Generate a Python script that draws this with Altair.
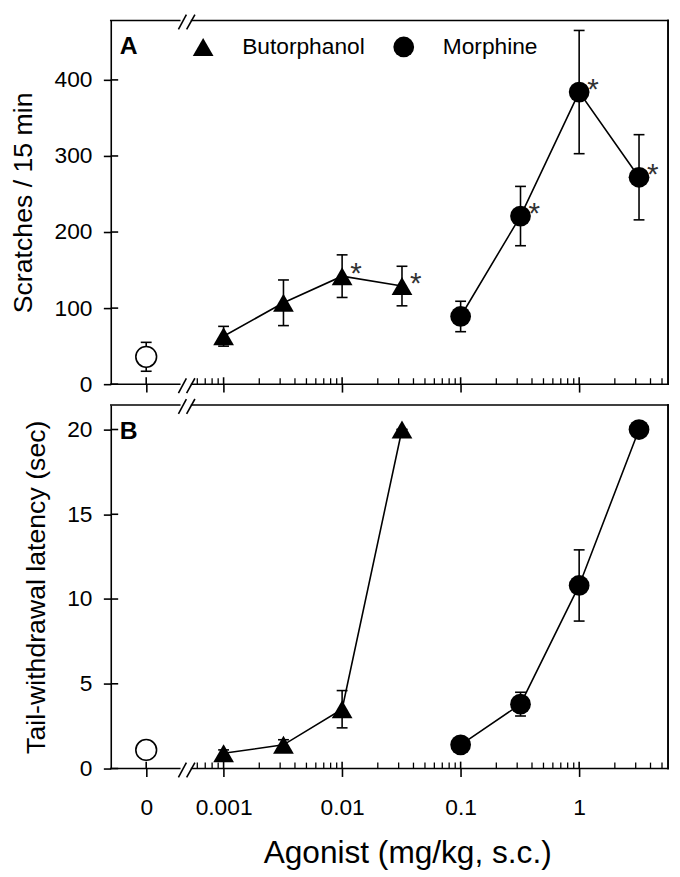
import altair as alt
import pandas as pd

FONT = "Liberation Sans"

# ---------------- data ----------------
BUT_DOSE = [0.001, 0.0032, 0.01, 0.032]
MOR_DOSE = [0.1, 0.32, 1.0, 3.2]
DRUGS = ["Butorphanol", "Morphine"]
SHAPES = ["triangle-up", "circle"]

A_BUT_MEAN = [63, 107, 142, 129]
A_BUT_SEM = [13, 30, 28, 26]
A_BUT_SIG = [False, False, True, True]
A_MOR_MEAN = [89, 221, 384, 272]
A_MOR_SEM = [20, 39, 81, 56]
A_MOR_SIG = [False, True, True, True]
A_CTRL_MEAN = 36
A_CTRL_SEM = 19

B_BUT_MEAN = [0.9, 1.4, 3.5, 20.0]
B_BUT_SEM = [0.2, 0.3, 1.1, 0.0]
B_BUT_SIG = [False, False, False, False]
B_MOR_MEAN = [1.4, 3.8, 10.8, 20.0]
B_MOR_SEM = [0.3, 0.7, 2.1, 0.0]
B_MOR_SIG = [False, False, False, False]
B_CTRL_MEAN = 1.1
B_CTRL_SEM = 0.3

X_TITLE = "Agonist (mg/kg, s.c.)"
A_Y_TITLE = "Scratches / 15 min"
B_Y_TITLE = "Tail-withdrawal latency (sec)"
A_Y_TICKS = [0, 100, 200, 300, 400]
B_Y_TICKS = [0, 5, 10, 15, 20]

# the vehicle (dose 0) point sits left of the axis break
CTRL_POS = 10 ** -3.653
X_MAJOR = [CTRL_POS, 0.001, 0.01, 0.1, 1]
X_MINOR = [0.0006, 0.0007, 0.0008, 0.0009,
           0.002, 0.003, 0.004, 0.005, 0.006, 0.007, 0.008, 0.009,
           0.02, 0.03, 0.04, 0.05, 0.06, 0.07, 0.08, 0.09,
           0.2, 0.3, 0.4, 0.5, 0.6, 0.7, 0.8, 0.9,
           2, 3, 4, 5]
X_DOMAIN = [10 ** -3.952, 10 ** 0.75]
BREAK_LO, BREAK_HI = 10 ** -3.37, 10 ** -3.27
SLASH_LO = [10 ** -3.381, 10 ** -3.312]
SLASH_HI = [10 ** -3.314, 10 ** -3.242]

W, H = 564, 368
LW = 1.6
MSIZE = 441


def panel(but_mean, but_sem, but_sig, mor_mean, mor_sem, mor_sig,
          ctrl_mean, ctrl_sem, ymax, yticks, ytitle, letter, bottom, legend):
    pts = pd.DataFrame({
        "drug": [DRUGS[0]] * len(BUT_DOSE) + [DRUGS[1]] * len(MOR_DOSE),
        "dose": BUT_DOSE + MOR_DOSE,
        "mean": but_mean + mor_mean,
        "sem": but_sem + mor_sem,
        "sig": but_sig + mor_sig,
    })
    ctrl = pd.DataFrame({"drug": ["Vehicle"], "dose": [CTRL_POS],
                         "mean": [ctrl_mean], "sem": [ctrl_sem], "sig": [False]})
    allp = pd.concat([pts, ctrl], ignore_index=True)
    allp["lo"] = allp["mean"] - allp["sem"]
    allp["hi"] = allp["mean"] + allp["sem"]

    xs = alt.Scale(type="log", domain=X_DOMAIN, nice=False)
    ys = alt.Scale(domain=[0, ymax], nice=False, zero=False)

    common_axis = dict(tickSize=8, tickWidth=LW, tickColor="black", domain=False,
                       grid=False, zindex=0, labelFont=FONT, labelFontSize=23,
                       labelColor="black", labelOverlap=False, labelFlush=False,
                       titleFont=FONT, titleColor="black", titleFontWeight="normal")
    if bottom:
        xaxis = alt.Axis(values=X_MAJOR,
                         labelExpr="datum.value < 0.0005 ? '0' : format(datum.value, '~g')",
                         title=X_TITLE, titleFontSize=32, labelPadding=21,
                         titlePadding=18, titleX=W / 2 + 18, **common_axis)
    else:
        xaxis = alt.Axis(values=X_MAJOR, labels=False, title="", **common_axis)
    yaxis = alt.Axis(values=yticks, title=ytitle, titleFontSize=27,
                     labelPadding=11.5, titlePadding=16.5,
                     **{**common_axis, "tickSize": 7.5, "domain": True,
                        "domainWidth": LW, "domainColor": "black"})

    X = lambda f: alt.X(f, scale=xs, axis=xaxis)
    Y = lambda f: alt.Y(f, scale=ys, axis=yaxis)

    base = alt.Chart(allp)
    layers = []
    # error bars
    layers.append(base.mark_rule(color="black", strokeWidth=LW).encode(
        x=X("dose:Q"), y=Y("lo:Q"), y2="hi:Q"))
    for f in ["lo", "hi"]:
        layers.append(base.mark_tick(color="black", orient="horizontal", size=11,
                                     thickness=LW, opacity=1).encode(
            x=X("dose:Q"), y=Y(f + ":Q")))
    # lines
    layers.append(alt.Chart(pts).mark_line(color="black", strokeWidth=LW).encode(
        x=X("dose:Q"), y=Y("mean:Q"), detail="drug:N"))
    # points
    leg = None
    if legend:
        leg = alt.Legend(orient="none", legendX=82, legendY=15, direction="horizontal",
                         title=None, labelFont=FONT, labelFontSize=23, labelColor="black",
                         symbolSize=MSIZE, symbolFillColor="black", symbolStrokeColor="black",
                         symbolStrokeWidth=0, labelOffset=28, columnPadding=27, padding=0)
    layers.append(alt.Chart(pts).mark_point(filled=True, color="black", size=MSIZE,
                                            opacity=1).encode(
        x=X("dose:Q"), y=Y("mean:Q"),
        shape=alt.Shape("drug:N", scale=alt.Scale(domain=DRUGS, range=SHAPES), legend=leg)))
    layers.append(alt.Chart(ctrl).mark_point(shape="circle", filled=True, fill="white",
                                             stroke="black", strokeWidth=LW, size=MSIZE,
                                             opacity=1).encode(
        x=X("dose:Q"), y=Y("mean:Q")))
    # significance asterisks
    layers.append(alt.Chart(pts).transform_filter("datum.sig").mark_text(
        text="*", dx=14, dy=7, fontSize=30, font=FONT, color="#333333",
        baseline="alphabetic").encode(x=X("dose:Q"), y=Y("mean:Q")))

    # frame: top/bottom segments broken at the axis break
    seg = pd.DataFrame({"a": [X_DOMAIN[0], BREAK_HI], "b": [BREAK_LO, X_DOMAIN[1]]})
    for yv in [0, H]:
        layers.append(alt.Chart(seg).mark_rule(color="black", strokeWidth=LW,
                                               strokeCap="square").encode(
            x=X("a:Q"), x2="b:Q", y=alt.value(yv)))
    layers.append(alt.Chart(seg).mark_rule(color="black", strokeWidth=LW,
                                           strokeCap="square").encode(
        x=alt.value(W), y=alt.value(0), y2=alt.value(H)))
    # break slashes
    sl = pd.DataFrame({"a": SLASH_LO, "b": SLASH_HI})
    for yv in [0, H]:
        layers.append(alt.Chart(sl).mark_rule(color="black", strokeWidth=LW).encode(
            x=X("a:Q"), x2="b:Q", y=alt.value(yv + 9), y2=alt.value(yv - 6)))
    # inward ticks
    layers.append(alt.Chart(pd.DataFrame({"t": X_MAJOR})).mark_rule(
        color="black", strokeWidth=LW).encode(x=X("t:Q"), y=alt.value(H), y2=alt.value(H - 7)))
    layers.append(alt.Chart(pd.DataFrame({"t": X_MINOR})).mark_rule(
        color="black", strokeWidth=1.3).encode(x=X("t:Q"), y=alt.value(H), y2=alt.value(H - 6)))
    layers.append(alt.Chart(pd.DataFrame({"t": yticks})).mark_rule(
        color="black", strokeWidth=LW).encode(y=Y("t:Q"), x=alt.value(0), x2=alt.value(7.5)))
    # panel letter
    layers.append(alt.Chart(pd.DataFrame({"t": [letter]})).mark_text(
        align="left", baseline="alphabetic", fontSize=25, fontWeight="bold",
        font=FONT, color="black").encode(text="t:N", x=alt.value(9), y=alt.value(34)))

    return alt.layer(*layers).properties(width=W, height=H)


panelA = panel(A_BUT_MEAN, A_BUT_SEM, A_BUT_SIG, A_MOR_MEAN, A_MOR_SEM, A_MOR_SIG,
               A_CTRL_MEAN, A_CTRL_SEM, 478, A_Y_TICKS, A_Y_TITLE, "A", False, True)
panelB = panel(B_BUT_MEAN, B_BUT_SEM, B_BUT_SIG, B_MOR_MEAN, B_MOR_SEM, B_MOR_SIG,
               B_CTRL_MEAN, B_CTRL_SEM, 21.45, B_Y_TICKS, B_Y_TITLE, "B", True, False)

chart = alt.vconcat(panelA, panelB, spacing=21).properties(
    bounds="flush", padding={"left": 2, "top": 0.5, "right": 2, "bottom": 0}
).resolve_scale(shape="independent").configure(font=FONT).configure_view(stroke=None)

chart.save("out.html", embed_options={"renderer": "svg", "actions": False})
